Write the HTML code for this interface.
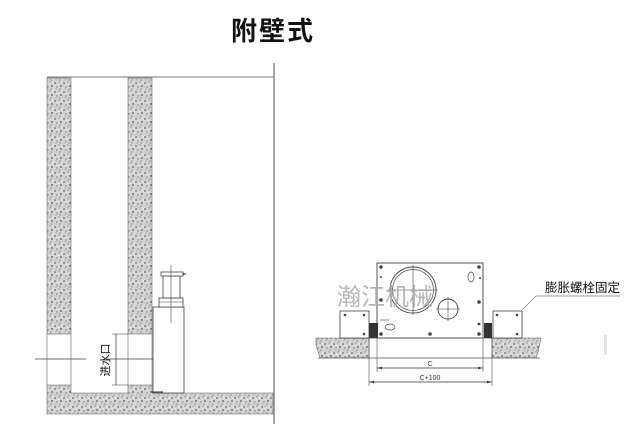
<!DOCTYPE html>
<html><head><meta charset="utf-8"><style>
html,body{margin:0;padding:0;background:#fff;}
svg{display:block}
text{font-family:"Liberation Sans","Noto Sans CJK SC",sans-serif;}
</style></head><body>
<svg width="641" height="424" viewBox="0 0 641 424" xmlns="http://www.w3.org/2000/svg">
<defs>
<pattern id="c" width="9" height="9" patternUnits="userSpaceOnUse">
<rect width="9" height="9" fill="#d4d4d4"/>
<circle cx="1" cy="2" r="0.9" fill="#666"/><circle cx="5" cy="1" r="0.7" fill="#888"/>
<circle cx="7" cy="5" r="0.9" fill="#555"/><circle cx="3" cy="6" r="0.7" fill="#777"/>
<circle cx="2" cy="8" r="0.6" fill="#999"/><circle cx="6" cy="8" r="0.6" fill="#666"/>
<circle cx="4" cy="3.5" r="0.5" fill="#fff"/><circle cx="8" cy="2" r="0.6" fill="#fff"/>
</pattern>
</defs>
<text x="273" y="40" text-anchor="middle" font-size="26" font-weight="bold" fill="#111" letter-spacing="2">附壁式</text>

<!-- left drawing -->
<line x1="47" y1="77" x2="274" y2="77" stroke="#777" stroke-width="1"/>
<line x1="274" y1="63" x2="274" y2="424" stroke="#888" stroke-width="1.5"/>
<rect x="47" y="78" width="24" height="256" fill="url(#c)" stroke="#666" stroke-width="0.6"/>
<rect x="128" y="78" width="24" height="256" fill="url(#c)" stroke="#666" stroke-width="0.6"/>
<path d="M47 385 H71 V393 H128 V385 H152 V393 H273 V414 H47 Z" fill="url(#c)" stroke="#666" stroke-width="0.6"/>
<line x1="47" y1="334" x2="47" y2="385" stroke="#666" stroke-width="0.6"/>
<line x1="71" y1="334" x2="71" y2="385" stroke="#666" stroke-width="0.6"/>
<line x1="128" y1="334" x2="128" y2="385" stroke="#666" stroke-width="0.6"/>
<line x1="152" y1="334" x2="152" y2="385" stroke="#666" stroke-width="0.6"/>
<line x1="35" y1="359" x2="86" y2="359" stroke="#444" stroke-width="0.7"/>
<line x1="106" y1="359" x2="168" y2="359" stroke="#444" stroke-width="0.7"/>
<line x1="116" y1="334" x2="116" y2="385" stroke="#333" stroke-width="0.7"/>
<line x1="112" y1="334" x2="128" y2="334" stroke="#333" stroke-width="0.5"/>
<line x1="112" y1="385" x2="128" y2="385" stroke="#333" stroke-width="0.5"/>
<text transform="translate(109,360) rotate(-90)" text-anchor="middle" font-size="11" fill="#111">进水口</text>
<!-- pump -->
<rect x="153" y="307" width="31" height="86" fill="#fff" stroke="#444" stroke-width="0.8"/>
<rect x="159" y="298" width="24" height="9" fill="#fff" stroke="#444" stroke-width="0.8"/>
<line x1="159" y1="302" x2="183" y2="302" stroke="#444" stroke-width="0.6"/>
<rect x="163" y="276" width="17" height="22" fill="#fff" stroke="#444" stroke-width="0.8"/>
<rect x="161" y="272" width="22" height="4" fill="#fff" stroke="#444" stroke-width="0.8"/>
<path d="M183 273 L187 274 L183 275 Z" fill="#333"/>
<line x1="171" y1="265" x2="171" y2="323" stroke="#444" stroke-width="0.6"/>
<line x1="152" y1="392" x2="163" y2="392" stroke="#333" stroke-width="1"/>

<!-- right drawing -->
<path d="M316 338 H369 V358 H320 L316 345 Z" fill="url(#c)" stroke="#666" stroke-width="0.6"/>
<path d="M492 338 H541 L538 352 L536 358 H492 Z" fill="url(#c)" stroke="#666" stroke-width="0.6"/>
<line x1="318" y1="358" x2="540" y2="358" stroke="#555" stroke-width="0.7"/>
<line x1="369" y1="338" x2="492" y2="338" stroke="#555" stroke-width="0.7"/>
<rect x="377" y="263" width="106" height="75" fill="#fff" stroke="#444" stroke-width="0.9"/>
<rect x="340" y="311" width="29" height="27" fill="#fff" stroke="#444" stroke-width="0.8"/>
<rect x="493" y="311" width="29" height="27" fill="#fff" stroke="#444" stroke-width="0.8"/>
<rect x="369" y="323" width="9" height="15" fill="#333"/>
<rect x="484" y="323" width="8" height="15" fill="#333"/>
<g fill="#444">
<circle cx="381" cy="267" r="1.8"/><circle cx="479" cy="267" r="1.8"/>
<circle cx="381" cy="300" r="1.8"/><circle cx="479" cy="302" r="1.8"/>
<circle cx="381" cy="334" r="1.8"/><circle cx="479" cy="334" r="1.8"/>
<circle cx="430" cy="334" r="1.8"/><circle cx="479" cy="324" r="1.4"/>
<circle cx="345" cy="315" r="1.3"/><circle cx="364" cy="315" r="1.3"/><circle cx="364" cy="334" r="1.3"/>
<circle cx="497" cy="315" r="1.3"/><circle cx="517" cy="315" r="1.3"/><circle cx="517" cy="334" r="1.3"/>
<circle cx="381" cy="277" r="1"/><circle cx="480" cy="278" r="1"/>
</g>
<circle cx="413" cy="290" r="23" fill="none" stroke="#444" stroke-width="0.9"/>
<circle cx="413" cy="290" r="20.5" fill="none" stroke="#444" stroke-width="0.7"/>
<line x1="388" y1="290" x2="438" y2="290" stroke="#444" stroke-width="0.6"/>
<line x1="413" y1="265" x2="413" y2="315" stroke="#444" stroke-width="0.6"/>
<circle cx="448" cy="309" r="10" fill="none" stroke="#444" stroke-width="0.9"/>
<line x1="436" y1="309" x2="460" y2="309" stroke="#444" stroke-width="0.6"/>
<line x1="448" y1="297" x2="448" y2="321" stroke="#444" stroke-width="0.6"/>
<ellipse cx="471" cy="277" rx="3" ry="5" fill="none" stroke="#444" stroke-width="0.7"/>
<ellipse cx="390" cy="327" rx="5" ry="3" fill="none" stroke="#444" stroke-width="0.7"/>
<line x1="380" y1="320" x2="389" y2="320" stroke="#444" stroke-width="0.6"/>
<text x="385" y="305" text-anchor="middle" font-size="24" fill="#aaa" fill-opacity="0.85">瀚江机械</text>
<!-- dims -->
<line x1="377" y1="338" x2="377" y2="372" stroke="#555" stroke-width="0.6"/>
<line x1="483" y1="338" x2="483" y2="372" stroke="#555" stroke-width="0.6"/>
<line x1="369" y1="338" x2="369" y2="386" stroke="#555" stroke-width="0.6"/>
<line x1="492" y1="338" x2="492" y2="386" stroke="#555" stroke-width="0.6"/>
<line x1="377" y1="368" x2="483" y2="368" stroke="#333" stroke-width="0.7"/>
<line x1="369" y1="382" x2="492" y2="382" stroke="#333" stroke-width="0.7"/>
<path d="M377 368 l5 -1.3 v2.6z M483 368 l-5 -1.3 v2.6z M369 382 l5 -1.3 v2.6z M492 382 l-5 -1.3 v2.6z" fill="#333"/>
<text x="430" y="366" text-anchor="middle" font-size="7" fill="#333">C</text>
<text x="430" y="380" text-anchor="middle" font-size="7" fill="#333">C+100</text>
<text x="545" y="292" font-size="12.5" fill="#111">膨胀螺栓固定</text>
<polyline points="522,310 536,296 620,296" fill="none" stroke="#777" stroke-width="0.7"/>
<rect x="604" y="335" width="3" height="20" fill="#e6e6e6"/>
</svg>
</body></html>
